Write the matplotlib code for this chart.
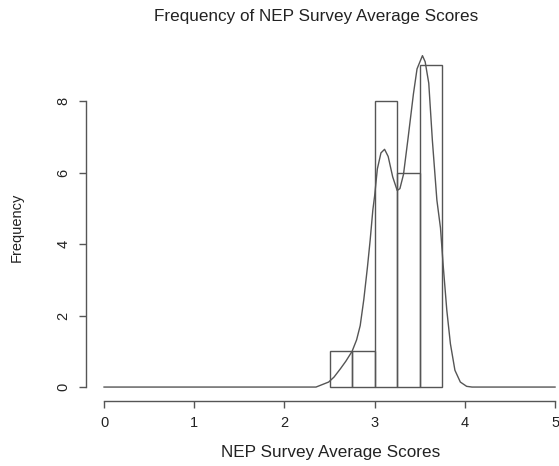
import matplotlib
matplotlib.use("Agg")
import matplotlib.pyplot as plt

plt.rcParams['font.family'] = ['Liberation Sans', 'DejaVu Sans']

# histogram bins and counts
bin_left = [2.5, 2.75, 3.0, 3.25, 3.5]
counts = [1, 1, 8, 6, 9]
bin_width = 0.25

# density curve (scaled to counts)
curve_x = [0.0, 2.35, 2.40, 2.49, 2.55, 2.62, 2.68, 2.75, 2.80, 2.84, 2.88,
           2.92, 2.95, 2.98, 3.00, 3.03, 3.07, 3.11, 3.15, 3.20, 3.25, 3.28,
           3.32, 3.37, 3.43, 3.47, 3.53, 3.56, 3.60, 3.64, 3.69, 3.73, 3.76,
           3.80, 3.84, 3.89, 3.95, 4.02, 4.08, 5.0]
curve_y = [0.0, 0.0, 0.05, 0.14, 0.28, 0.51, 0.72, 1.00, 1.32, 1.72, 2.45,
           3.35, 4.10, 4.95, 5.35, 6.10, 6.55, 6.65, 6.45, 5.88, 5.50, 5.55,
           5.95, 6.95, 8.20, 8.90, 9.27, 9.10, 8.50, 6.90, 5.23, 4.45, 3.40,
           2.15, 1.21, 0.47, 0.14, 0.02, 0.0, 0.0]

x_ticks = [0, 1, 2, 3, 4, 5]
y_ticks = [0, 2, 4, 6, 8]

W, H = 559, 466
fig = plt.figure(figsize=(W / 100, H / 100), dpi=100)

# plot region in pixels (right side runs past the image edge)
left_px, bottom_px = 86, 401
xlim = (-0.2, 5.2)
ylim = (-0.39, 9.9)
px_x, px_y = 90.2, 35.75
ax = fig.add_axes([left_px / W, (H - bottom_px) / H,
                   (xlim[1] - xlim[0]) * px_x / W,
                   (ylim[1] - ylim[0]) * px_y / H])
ax.set_xlim(*xlim)
ax.set_ylim(*ylim)

line_col = '#555555'
ax.bar(bin_left, counts, width=bin_width, align='edge', fill=False,
       edgecolor=line_col, linewidth=1.0)
ax.plot(curve_x, curve_y, color=line_col, linewidth=1.0)

for s in ['top', 'right']:
    ax.spines[s].set_visible(False)
ax.spines['left'].set_bounds(0, 8)
ax.spines['bottom'].set_bounds(0, 5)
for s in ['left', 'bottom']:
    ax.spines[s].set_color(line_col)
    ax.spines[s].set_linewidth(1.0)

ax.set_xticks(x_ticks)
ax.set_yticks(y_ticks)
ax.tick_params(colors=line_col, labelcolor='#222222', length=5, width=1.0,
               labelsize=10.5, pad=6)
ax.set_yticklabels([str(v) for v in y_ticks], rotation=90, va='center')

fig.text(316 / W, 1 - 17 / H, 'Frequency of NEP Survey Average Scores',
         ha='center', va='center', fontsize=12.3, color='#222222')
fig.text(331 / W, 1 - 453 / H, 'NEP Survey Average Scores',
         ha='center', va='center', fontsize=12.3, color='#222222')
fig.text(17 / W, 1 - 227 / H, 'Frequency', rotation=90,
         ha='center', va='center', fontsize=10.5, color='#222222')

fig.savefig('out.png', dpi=100)
